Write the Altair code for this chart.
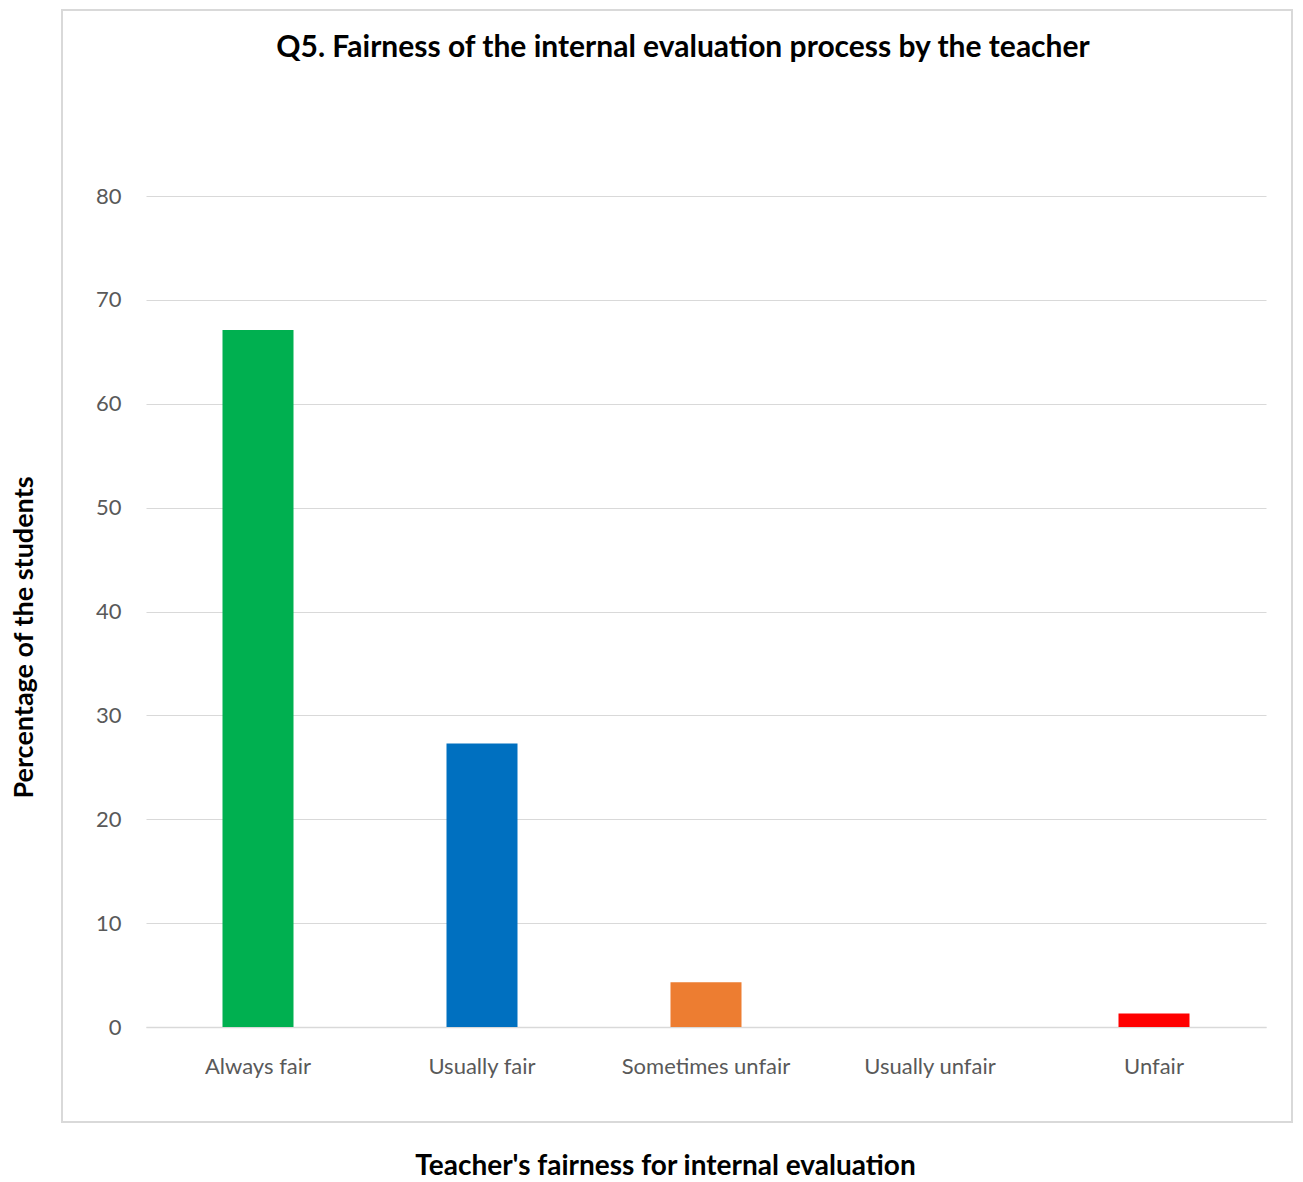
import altair as alt
import pandas as pd

categories = ["Always fair", "Usually fair", "Sometimes unfair", "Usually unfair", "Unfair"]
values = [67.1, 27.3, 4.3, 0.0, 1.3]
colors = ["#00B050", "#0070C0", "#ED7D31", "#A5A5A5", "#FF0000"]
y_ticks = [0, 10, 20, 30, 40, 50, 60, 70, 80]

df = pd.DataFrame({"category": categories, "value": values})

FONT = "Lato"

bars = alt.Chart(df).mark_bar(size=71).encode(
    x=alt.X(
        "category:N",
        sort=categories,
        scale=alt.Scale(paddingInner=0, paddingOuter=0),
        axis=alt.Axis(
            title="Teacher's fairness for internal evaluation",
            titleFont=FONT,
            titleFontSize=28,
            titleFontWeight="bold",
            titleColor="#000000",
            titleX=519,
            titleY=139,
            titleAlign="center",
            titleBaseline="middle",
            labelAngle=0,
            labelFont=FONT,
            labelFontSize=22,
            labelColor="#595959",
            labelPadding=29,
            ticks=False,
            domainColor="#d9d9d9",
            domainWidth=1.5,
        ),
    ),
    y=alt.Y(
        "value:Q",
        scale=alt.Scale(domain=[0, 80], nice=False),
        axis=alt.Axis(
            values=y_ticks,
            title="Percentage of the students",
            titleFont=FONT,
            titleFontSize=27,
            titleFontWeight="bold",
            titleColor="#000000",
            titleX=-122,
            titleY=441,
            titleAngle=-90,
            titleAlign="center",
            titleBaseline="middle",
            labelFont=FONT,
            labelFontSize=22,
            labelColor="#595959",
            labelPadding=25,
            ticks=False,
            domain=False,
            gridColor="#d9d9d9",
            gridWidth=1.2,
        ),
    ),
    color=alt.Color("category:N", sort=categories,
                    scale=alt.Scale(domain=categories, range=colors), legend=None),
)

frame = alt.Chart(alt.Data(values=[{"a": 1}])).mark_rect(
    fill=None, stroke="#d9d9d9", strokeWidth=2
).encode(
    x=alt.value(-84), x2=alt.value(1146),
    y=alt.value(-186), y2=alt.value(926),
)

chart = alt.layer(frame, bars).properties(
    width=1120,
    height=831,
    title=alt.TitleParams(
        "Q5. Fairness of the internal evaluation process by the teacher",
        font=FONT,
        fontSize=30,
        fontWeight="bold",
        color="#000000",
        anchor="middle",
        frame="group",
        baseline="alphabetic",
        dx=-23,
        offset=-78,
    ),
    autosize=alt.AutoSizeParams(type="none"),
    padding={"left": 138, "top": 188, "right": 28, "bottom": 155},
).configure(background="white").configure_view(strokeWidth=0)

chart.save("out.html", embed_options={"renderer": "svg", "actions": False})
